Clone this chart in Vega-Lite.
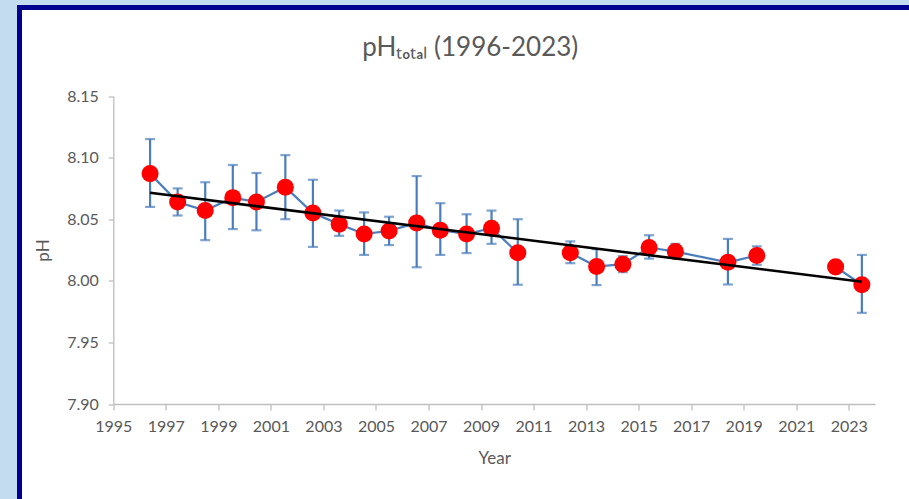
{
  "$schema": "https://vega.github.io/schema/vega-lite/v6.json",
  "autosize": {"type": "none"},
  "width": 901.5,
  "height": 503.5,
  "padding": {"left": 19.5, "top": 7.5, "right": -12, "bottom": -12},
  "background": "#c4dcef",
  "title": {
    "text": "pHₜₒₜₐₗ (1996-2023)",
    "anchor": "middle",
    "frame": "group",
    "baseline": "alphabetic",
    "offset": -74,
    "font": "Lato",
    "fontSize": 26,
    "fontWeight": "normal",
    "color": "#595959"
  },
  "config": {
    "view": {"fill": "white", "stroke": "#000090", "strokeWidth": 5},
    "font": "Lato",
    "axis": {
      "labelFont": "Lato",
      "labelFontSize": 16,
      "labelColor": "#595959",
      "labelOverlap": false,
      "labelFlush": false,
      "titleFont": "Lato",
      "titleFontSize": 17,
      "titleFontWeight": "normal",
      "titleColor": "#595959",
      "domainColor": "#bfbfbf",
      "domainWidth": 1.3,
      "tickColor": "#bfbfbf",
      "tickWidth": 1.3,
      "tickSize": 6,
      "grid": false
    }
  },
  "data": {
    "values": [
      {"year": 1996.4, "ph": 8.087, "lo": 8.060, "hi": 8.115},
      {"year": 1997.45, "ph": 8.064, "lo": 8.053, "hi": 8.075},
      {"year": 1998.5, "ph": 8.057, "lo": 8.033, "hi": 8.080},
      {"year": 1999.55, "ph": 8.0675, "lo": 8.042, "hi": 8.094},
      {"year": 2000.45, "ph": 8.064, "lo": 8.041, "hi": 8.0875},
      {"year": 2001.55, "ph": 8.076, "lo": 8.050, "hi": 8.102},
      {"year": 2002.6, "ph": 8.055, "lo": 8.0275, "hi": 8.082},
      {"year": 2003.6, "ph": 8.046, "lo": 8.0365, "hi": 8.057},
      {"year": 2004.55, "ph": 8.038, "lo": 8.021, "hi": 8.0555},
      {"year": 2005.5, "ph": 8.0405, "lo": 8.029, "hi": 8.052},
      {"year": 2006.55, "ph": 8.047, "lo": 8.011, "hi": 8.085},
      {"year": 2007.45, "ph": 8.041, "lo": 8.021, "hi": 8.063},
      {"year": 2008.45, "ph": 8.038, "lo": 8.0225, "hi": 8.054},
      {"year": 2009.4, "ph": 8.0427, "lo": 8.030, "hi": 8.057},
      {"year": 2010.4, "ph": 8.0227, "lo": 7.9968, "hi": 8.050},
      {"year": 2011.4, "ph": null, "lo": null, "hi": null},
      {"year": 2012.4, "ph": 8.0227, "lo": 8.0143, "hi": 8.032},
      {"year": 2013.4, "ph": 8.0116, "lo": 7.9965, "hi": 8.0257},
      {"year": 2014.4, "ph": 8.0135, "lo": 8.007, "hi": 8.020},
      {"year": 2015.4, "ph": 8.027, "lo": 8.018, "hi": 8.037},
      {"year": 2016.4, "ph": 8.0237, "lo": 8.019, "hi": 8.030},
      {"year": 2018.4, "ph": 8.015, "lo": 7.997, "hi": 8.034},
      {"year": 2019.5, "ph": 8.0205, "lo": 8.013, "hi": 8.028},
      {"year": 2021.0, "ph": null, "lo": null, "hi": null},
      {"year": 2022.5, "ph": 8.0113, "lo": 8.007, "hi": 8.016},
      {"year": 2023.5, "ph": 7.9968, "lo": 7.974, "hi": 8.021}
    ]
  },
  "encoding": {
    "x": {
      "field": "year",
      "type": "quantitative",
      "title": "Year",
      "scale": {"domain": [1995, 2024], "range": [93.8, 855.5], "nice": false, "zero": false},
      "axis": {
        "orient": "bottom",
        "offset": -107,
        "values": [1995, 1997, 1999, 2001, 2003, 2005, 2007, 2009, 2011, 2013, 2015, 2017, 2019, 2021, 2023],
        "format": "d",
        "labelPadding": 8,
        "titlePadding": 16
      }
    },
    "y": {
      "field": "ph",
      "type": "quantitative",
      "title": "pH",
      "scale": {"domain": [7.9, 8.15], "range": [396.5, 88.5], "nice": false, "zero": false},
      "axis": {
        "orient": "left",
        "offset": -93.8,
        "values": [7.9, 7.95, 8.0, 8.05, 8.1, 8.15],
        "format": ".2f",
        "tickSize": 5,
        "labelPadding": 10,
        "titlePadding": 14
      }
    }
  },
  "layer": [
    {
      "mark": {"type": "line", "color": "#4a7ebb", "strokeWidth": 2.2, "invalid": "break-paths-show-domains"},
      "encoding": {}
    },
    {
      "mark": {
        "type": "errorbar",
        "color": "#4a7ebb",
        "ticks": {"size": 10, "thickness": 2.2, "color": "#4a7ebb"},
        "rule": {"strokeWidth": 2.2, "color": "#4a7ebb"}
      },
      "transform": [{"filter": "isValid(datum.lo)"}],
      "encoding": {
        "y": {"field": "lo", "type": "quantitative", "title": "pH"},
        "y2": {"field": "hi"}
      }
    },
    {
      "mark": {"type": "circle", "color": "#ff0000", "opacity": 1, "size": 290},
      "encoding": {}
    },
    {
      "transform": [
        {"filter": "isValid(datum.ph)"},
        {"regression": "ph", "on": "year"}
      ],
      "mark": {"type": "line", "color": "#000000", "strokeWidth": 2.6},
      "encoding": {}
    },
    {
      "data": {"values": [{}]},
      "mark": {
        "type": "text",
        "text": "y = -0.003x + 13.332\nR² = 0.86",
        "lineBreak": "\n",
        "lineHeight": 22,
        "align": "center",
        "baseline": "alphabetic",
        "font": "Lato",
        "fontSize": 15,
        "color": "#595959"
      },
      "encoding": {
        "x": {"datum": 2001.3},
        "y": {"datum": 7.9622}
      }
    }
  ]
}
